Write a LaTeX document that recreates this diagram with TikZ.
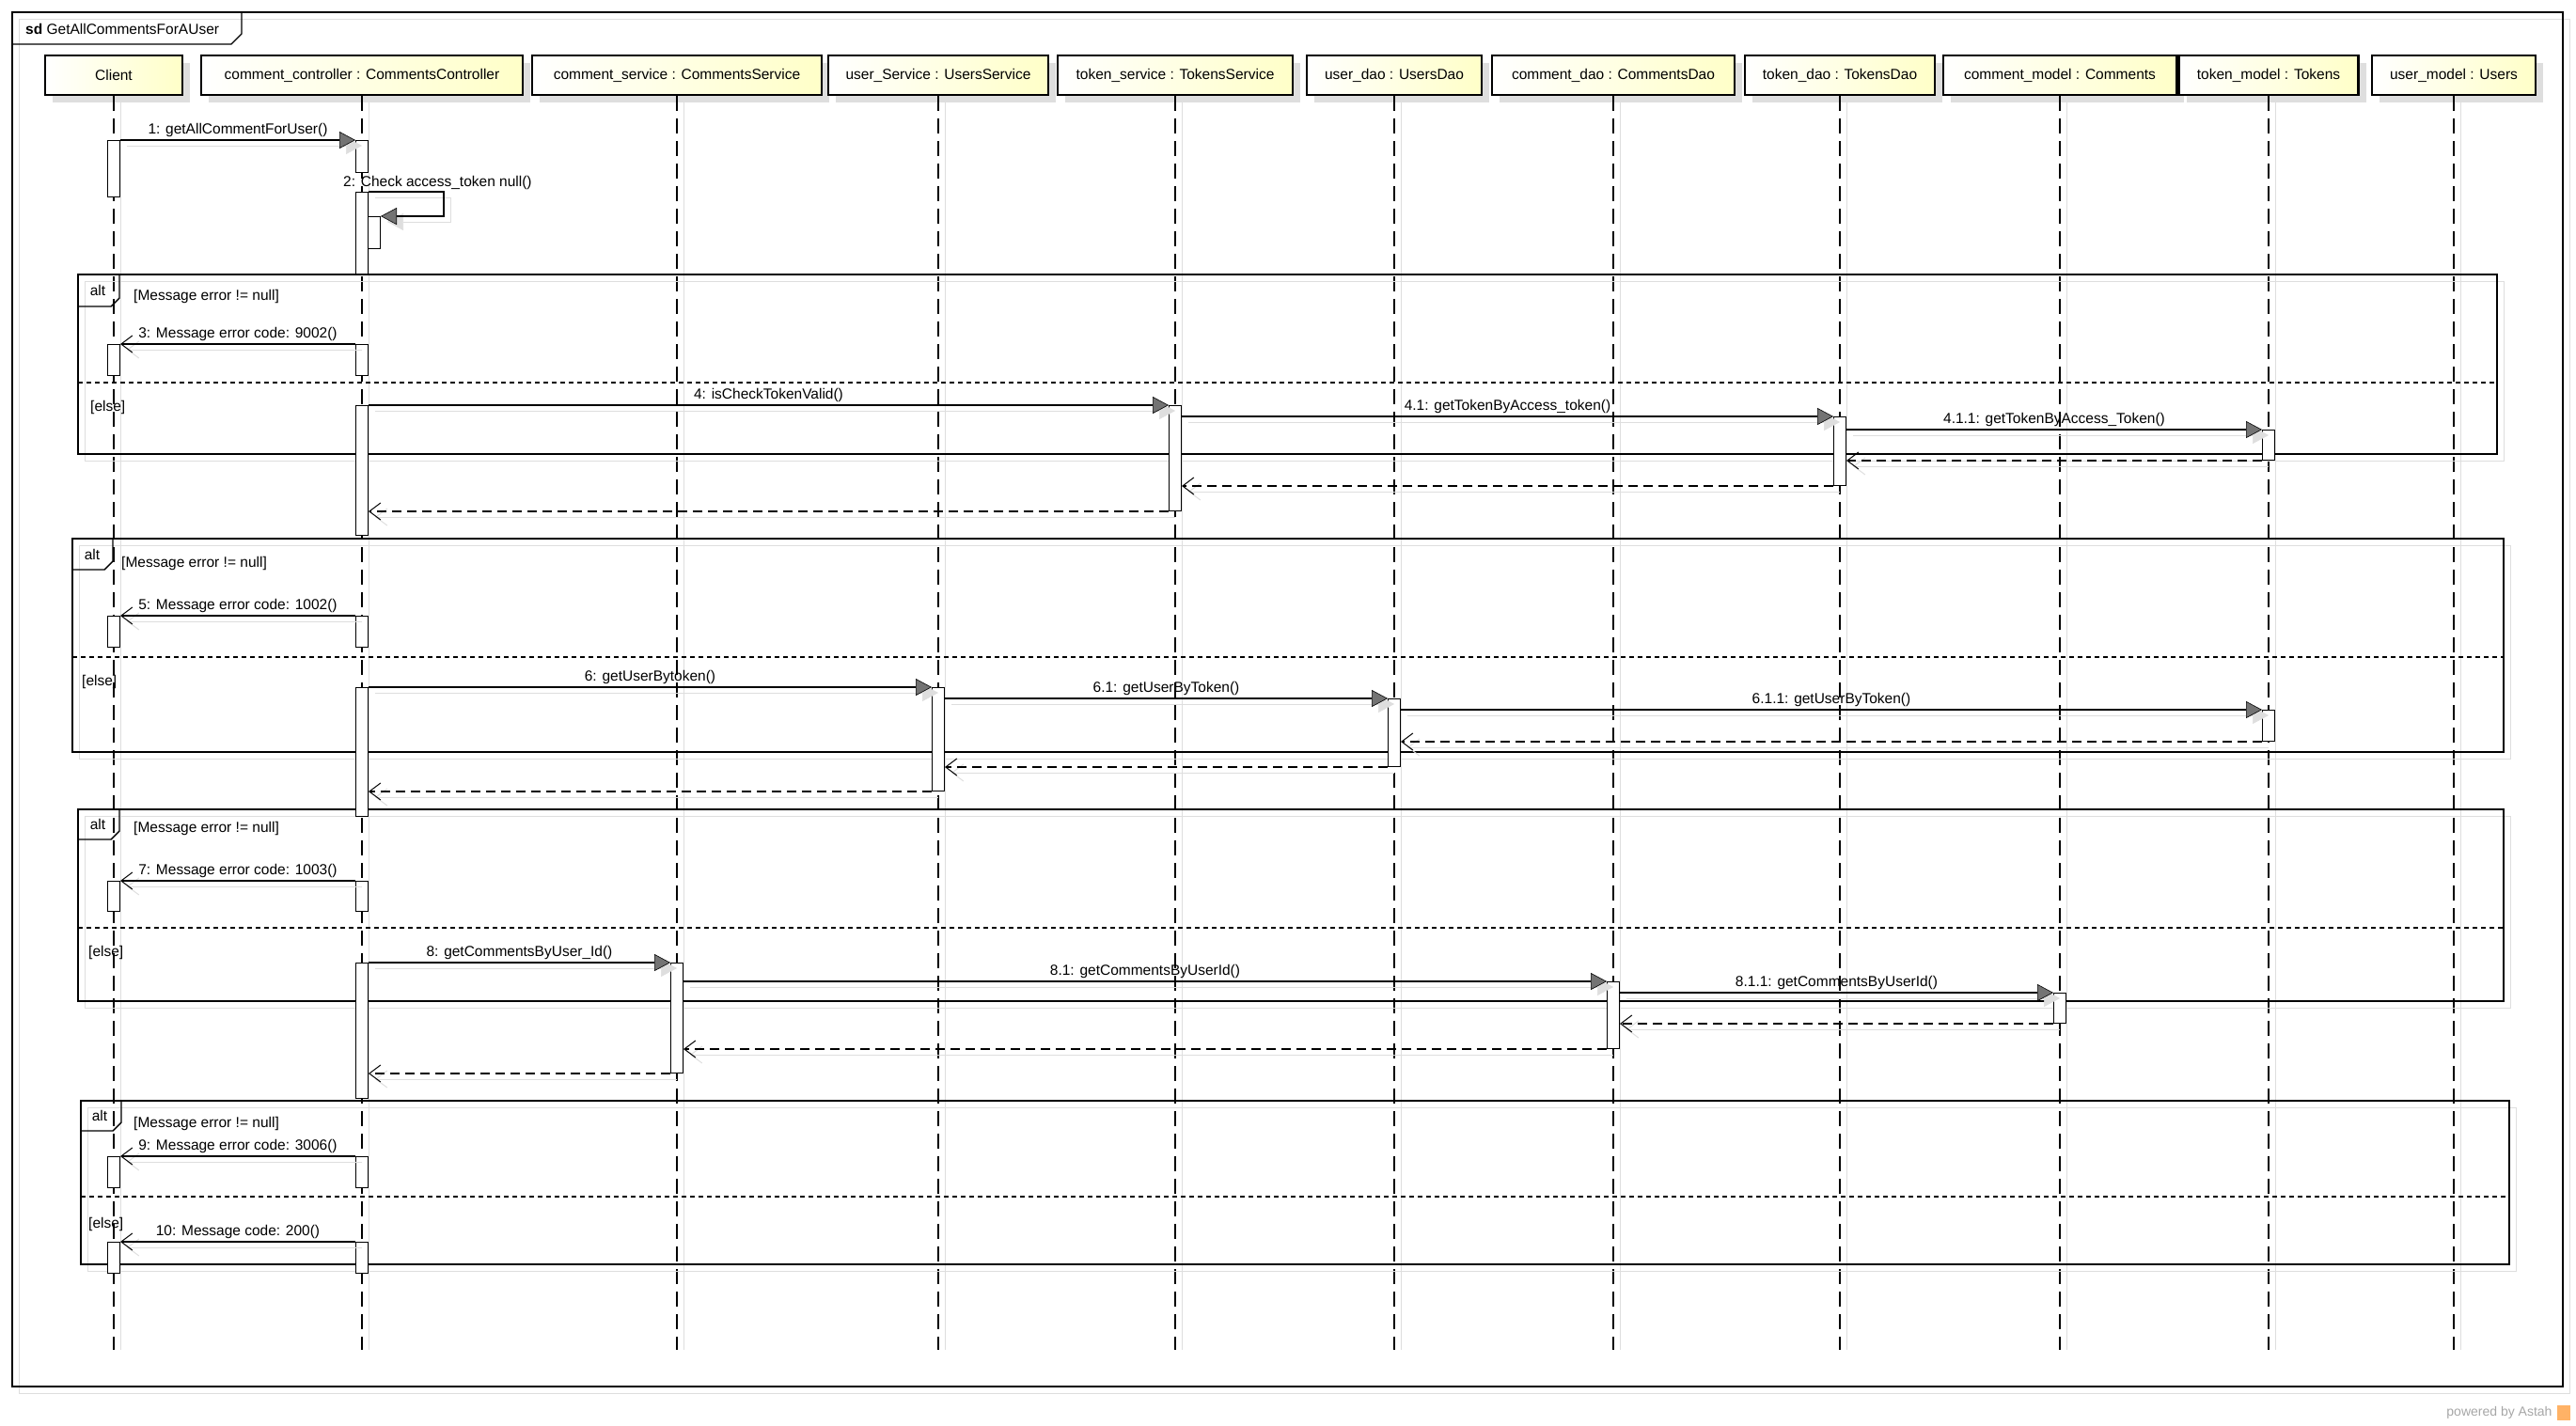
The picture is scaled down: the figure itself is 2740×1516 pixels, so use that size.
\documentclass[tikz,border=0pt]{standalone}
\usepackage{fontspec}
\setmainfont{Liberation Sans}
\usepackage{tikz}
\usetikzlibrary{arrows.meta,shadows}

\definecolor{objfill}{HTML}{FFFFC8}
\definecolor{shade}{HTML}{DEDEDE}

\tikzset{
	obj/.style={draw, line width=2.5pt, left color=white, right color=objfill, minimum height=42pt, inner sep=0pt, drop shadow={shadow xshift=8pt, shadow yshift=-8pt, fill=shade, opacity=1}},
	lifeline/.style={line width=1.1pt, dash pattern=on 16pt off 8pt, preaction={draw=shade, solid, line width=1pt, transform canvas={xshift=7pt}}},
	act/.style={draw, fill=white, line width=1pt, minimum width=13pt, inner sep=0pt, anchor=north},
	frame/.style={line width=1.4pt, preaction={draw=shade, transform canvas={xshift=7pt, yshift=-7pt}}},
	sync/.style={line width=1.5pt, -{Triangle[length=17pt, width=18pt, fill=black!55, line width=0.6pt]}, preaction={draw=shade, -{Triangle[length=17pt, width=18pt, fill=shade, line width=0.6pt]}, transform canvas={xshift=7pt, yshift=-6pt}}},
	async/.style={line width=1.5pt, -{Straight Barb[length=12pt, width=18pt, line width=1pt]}, preaction={draw=shade, transform canvas={xshift=7pt, yshift=-6pt}}},
	ret/.style={line width=1.5pt, dash pattern=on 10pt off 6pt, -{Straight Barb[length=12pt, width=18pt, line width=1pt]}, preaction={draw=shade, solid, transform canvas={xshift=7pt, yshift=-6pt}}},
	lbl/.style={inner sep=1pt, above=2pt},
	guard/.style={anchor=west, inner sep=0pt},
}

\begin{document}
\begin{tikzpicture}[x=1pt, y=-1pt, font=\fontsize{15.5}{18}\selectfont]
	\useasboundingbox (0,0) rectangle (2740,1516);
	% Frame:
	\draw[frame] (13,13) rectangle (2726,1475);
	\draw[line width=1.4pt] (13,47) -- (246,47) -- (257,36) -- (257,13);
	\node[guard] (sd) at (27,31){\textbf{sd} GetAllCommentsForAUser};
	% Lifelines:
	\node[obj, minimum width=146pt](client) at (121,80){Client};
	\node[obj, minimum width=342pt](ctrl) at (385,80){comment\_controller : CommentsController};
	\node[obj, minimum width=308pt](csvc) at (720,80){comment\_service : CommentsService};
	\node[obj, minimum width=234pt](usvc) at (998,80){user\_Service : UsersService};
	\node[obj, minimum width=250pt](tsvc) at (1250,80){token\_service : TokensService};
	\node[obj, minimum width=186pt](udao) at (1483,80){user\_dao : UsersDao};
	\node[obj, minimum width=258pt](cdao) at (1716,80){comment\_dao : CommentsDao};
	\node[obj, minimum width=202pt](tdao) at (1957,80){token\_dao : TokensDao};
	\node[obj, minimum width=248pt](cmod) at (2191,80){comment\_model : Comments};
	\node[obj, minimum width=191pt](tmod) at (2413,80){token\_model : Tokens};
	\node[obj, minimum width=174pt](umod) at (2610,80){user\_model : Users};
	\coordinate (lend) at (0,1436);
	\draw[lifeline] (client.south) -- (client.south |- lend);
	\draw[lifeline] (ctrl.south) -- (ctrl.south |- lend);
	\draw[lifeline] (csvc.south) -- (csvc.south |- lend);
	\draw[lifeline] (usvc.south) -- (usvc.south |- lend);
	\draw[lifeline] (tsvc.south) -- (tsvc.south |- lend);
	\draw[lifeline] (udao.south) -- (udao.south |- lend);
	\draw[lifeline] (cdao.south) -- (cdao.south |- lend);
	\draw[lifeline] (tdao.south) -- (tdao.south |- lend);
	\draw[lifeline] (cmod.south) -- (cmod.south |- lend);
	\draw[lifeline] (tmod.south) -- (tmod.south |- lend);
	\draw[lifeline] (umod.south) -- (umod.south |- lend);
	% Combined fragments:
	\draw[frame] (83,292) rectangle (2656,483);
	\draw[line width=1.4pt] (83,326) -- (118,326) -- (127,317) -- (127,292);
	\draw[line width=1.2pt, dash pattern=on 5pt off 4pt] (83,407) -- (2656,407);
	\node (alt1) at (104,309){alt};
	\node[guard] (g1) at (142,315){[Message error != null]};
	\node[guard] (e1) at (96,433){[else]};
	\draw[frame] (77,573) rectangle (2663,800);
	\draw[line width=1.4pt] (77,606) -- (111,606) -- (120,597) -- (120,573);
	\draw[line width=1.2pt, dash pattern=on 5pt off 4pt] (77,699) -- (2663,699);
	\node (alt2) at (98,590){alt};
	\node[guard] (g2) at (129,599){[Message error != null]};
	\node[guard] (e2) at (87,725){[else]};
	\draw[frame] (83,861) rectangle (2663,1065);
	\draw[line width=1.4pt] (83,893) -- (118,893) -- (127,884) -- (127,861);
	\draw[line width=1.2pt, dash pattern=on 5pt off 4pt] (83,987) -- (2663,987);
	\node (alt3) at (104,877){alt};
	\node[guard] (g3) at (142,881){[Message error != null]};
	\node[guard] (e3) at (94,1013){[else]};
	\draw[frame] (86,1171) rectangle (2669,1345);
	\draw[line width=1.4pt] (86,1203) -- (120,1203) -- (129,1194) -- (129,1171);
	\draw[line width=1.2pt, dash pattern=on 5pt off 4pt] (86,1273) -- (2669,1273);
	\node (alt4) at (106,1187){alt};
	\node[guard] (g4) at (142,1195){[Message error != null]};
	\node[guard] (e4) at (94,1302){[else]};
	% Activations:
	\node[act, minimum height=60pt](c1) at (121,149){};
	\node[act, minimum height=34pt](k1) at (385,149){};
	\node[act, minimum height=87pt](k2) at (385,204){};
	\node[act, minimum height=34pt](k2n) at (398,230){};
	\node[act, minimum height=33pt](c3) at (121,366){};
	\node[act, minimum height=33pt](k3) at (385,366){};
	\node[act, minimum height=138pt](k4) at (385,431){};
	\node[act, minimum height=112pt](t4) at (1250,431){};
	\node[act, minimum height=73pt](d4) at (1957,443){};
	\node[act, minimum height=32pt](tm4) at (2413,457){};
	\node[act, minimum height=33pt](c5) at (121,655){};
	\node[act, minimum height=33pt](k5) at (385,655){};
	\node[act, minimum height=137pt](k6) at (385,731){};
	\node[act, minimum height=110pt](u6) at (998,731){};
	\node[act, minimum height=72pt](ud6) at (1483,743){};
	\node[act, minimum height=33pt](tm6) at (2413,755){};
	\node[act, minimum height=32pt](c7) at (121,937){};
	\node[act, minimum height=32pt](k7) at (385,937){};
	\node[act, minimum height=144pt](k8) at (385,1024){};
	\node[act, minimum height=117pt](s8) at (720,1024){};
	\node[act, minimum height=71pt](cd8) at (1716,1044){};
	\node[act, minimum height=32pt](cm8) at (2191,1056){};
	\node[act, minimum height=33pt](c9) at (121,1230){};
	\node[act, minimum height=33pt](k9) at (385,1230){};
	\node[act, minimum height=33pt](c10) at (121,1321){};
	\node[act, minimum height=33pt](k10) at (385,1321){};
	% Messages:
	\draw[sync] (c1.north east) -- node[lbl](m1){1: getAllCommentForUser()} (k1.north west);
	\draw[sync] (k2.north east) -- ++(80,0) |- (k2n.north east);
	\node[guard] (m2) at (365,194){2: Check access\_token null()};
	\draw[async] (k3.north west) -- node[lbl](m3){3: Message error code: 9002()} (c3.north east);
	\draw[sync] (k4.north east) -- node[lbl](m4){4: isCheckTokenValid()} (t4.north west);
	\draw[sync] (t4.east |- d4.north) -- node[lbl](m41){4.1: getTokenByAccess\_token()} (d4.north west);
	\draw[sync] (d4.east |- tm4.north) -- node[lbl](m411){4.1.1: getTokenByAccess\_Token()} (tm4.north west);
	\draw[ret] (tm4.south west) -- (d4.east |- tm4.south);
	\draw[ret] (d4.south west) -- (t4.east |- d4.south);
	\draw[ret] (t4.south west) -- (k4.east |- t4.south);
	\draw[async] (k5.north west) -- node[lbl](m5){5: Message error code: 1002()} (c5.north east);
	\draw[sync] (k6.north east) -- node[lbl](m6){6: getUserBytoken()} (u6.north west);
	\draw[sync] (u6.east |- ud6.north) -- node[lbl](m61){6.1: getUserByToken()} (ud6.north west);
	\draw[sync] (ud6.east |- tm6.north) -- node[lbl](m611){6.1.1: getUserByToken()} (tm6.north west);
	\draw[ret] (tm6.south west) -- (ud6.east |- tm6.south);
	\draw[ret] (ud6.south west) -- (u6.east |- ud6.south);
	\draw[ret] (u6.south west) -- (k6.east |- u6.south);
	\draw[async] (k7.north west) -- node[lbl](m7){7: Message error code: 1003()} (c7.north east);
	\draw[sync] (k8.north east) -- node[lbl](m8){8: getCommentsByUser\_Id()} (s8.north west);
	\draw[sync] (s8.east |- cd8.north) -- node[lbl](m81){8.1: getCommentsByUserId()} (cd8.north west);
	\draw[sync] (cd8.east |- cm8.north) -- node[lbl](m811){8.1.1: getCommentsByUserId()} (cm8.north west);
	\draw[ret] (cm8.south west) -- (cd8.east |- cm8.south);
	\draw[ret] (cd8.south west) -- (s8.east |- cd8.south);
	\draw[ret] (s8.south west) -- (k8.east |- s8.south);
	\draw[async] (k9.north west) -- node[lbl](m9){9: Message error code: 3006()} (c9.north east);
	\draw[async] (k10.north west) -- node[lbl](m10){10: Message code: 200()} (c10.north east);
	% Footer:
	\node[anchor=east, text=black!35, font=\fontsize{14}{16}\selectfont] (astah) at (2718,1503){powered by Astah};
	\fill[orange!60] (2720,1495) rectangle (2734,1511);
\end{tikzpicture}
\end{document}
